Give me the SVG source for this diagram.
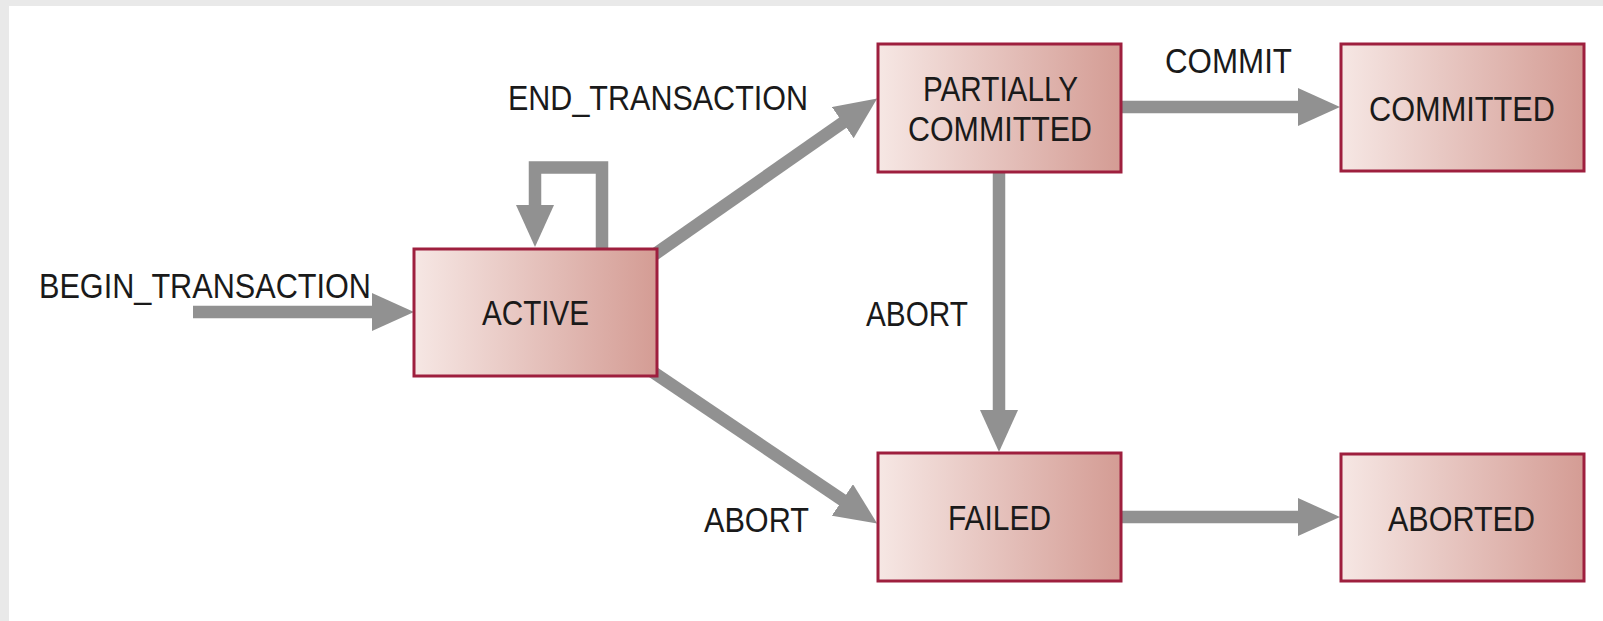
<svg xmlns="http://www.w3.org/2000/svg" width="1603" height="621" viewBox="0 0 1603 621">
<style>
.node rect{fill:url(#g);stroke:#9e1f3e;stroke-width:3}
.lbl{font-family:"Liberation Sans",Arial,sans-serif;font-size:35px;fill:#1a1a1a}
.conn path{fill:none;stroke:#919191;stroke-width:12.5;stroke-linejoin:miter}
</style>
<defs>
<linearGradient id="g" x1="0" y1="0" x2="1" y2="0">
<stop offset="0" stop-color="#f6e7e4"/>
<stop offset="1" stop-color="#d49c94"/>
</linearGradient>
<marker id="ah" markerUnits="userSpaceOnUse" viewBox="0 0 42 38" refX="1" refY="19" markerWidth="42" markerHeight="38" orient="auto">
<path d="M0,0 L42,19 L0,38 Z" fill="#919191"/>
</marker>
</defs>
<rect x="0" y="0" width="1603" height="621" fill="#e9e9e9"/>
<rect x="9" y="6" width="1594" height="615" fill="#ffffff"/>
<g id="connectors" class="conn">
<path d="M193,312 H373" marker-end="url(#ah)"/>
<path d="M602,252 V167.5 H535 V206" marker-end="url(#ah)"/>
<path d="M640,264.6 L843.6,122.1" marker-end="url(#ah)"/>
<path d="M638,362 L843.2,500.5" marker-end="url(#ah)"/>
<path d="M1115,107 H1299" marker-end="url(#ah)"/>
<path d="M999,168 V411" marker-end="url(#ah)"/>
<path d="M1115,517 H1299" marker-end="url(#ah)"/>
</g>
<g id="labels">
<text class="lbl" x="39" y="298" textLength="332" lengthAdjust="spacingAndGlyphs">BEGIN_TRANSACTION</text>
<text class="lbl" x="508" y="110" textLength="300" lengthAdjust="spacingAndGlyphs">END_TRANSACTION</text>
<text class="lbl" x="1165" y="73" textLength="127" lengthAdjust="spacingAndGlyphs">COMMIT</text>
<text class="lbl" x="866" y="326" textLength="102" lengthAdjust="spacingAndGlyphs">ABORT</text>
<text class="lbl" x="704" y="532" textLength="105" lengthAdjust="spacingAndGlyphs">ABORT</text>
</g>
<g id="active" class="node">
<rect x="414" y="249" width="243" height="127"/>
<text class="lbl" x="482" y="325" textLength="107" lengthAdjust="spacingAndGlyphs">ACTIVE</text>
</g>
<g id="partially-committed" class="node">
<rect x="878" y="44" width="243" height="128"/>
<text class="lbl" x="923" y="101" textLength="155" lengthAdjust="spacingAndGlyphs">PARTIALLY</text>
<text class="lbl" x="908" y="141" textLength="184" lengthAdjust="spacingAndGlyphs">COMMITTED</text>
</g>
<g id="committed" class="node">
<rect x="1341" y="44" width="243" height="127"/>
<text class="lbl" x="1369" y="121" textLength="186" lengthAdjust="spacingAndGlyphs">COMMITTED</text>
</g>
<g id="failed" class="node">
<rect x="878" y="453" width="243" height="128"/>
<text class="lbl" x="948" y="530" textLength="103" lengthAdjust="spacingAndGlyphs">FAILED</text>
</g>
<g id="aborted" class="node">
<rect x="1341" y="454" width="243" height="127"/>
<text class="lbl" x="1388" y="531" textLength="147" lengthAdjust="spacingAndGlyphs">ABORTED</text>
</g>
</svg>
